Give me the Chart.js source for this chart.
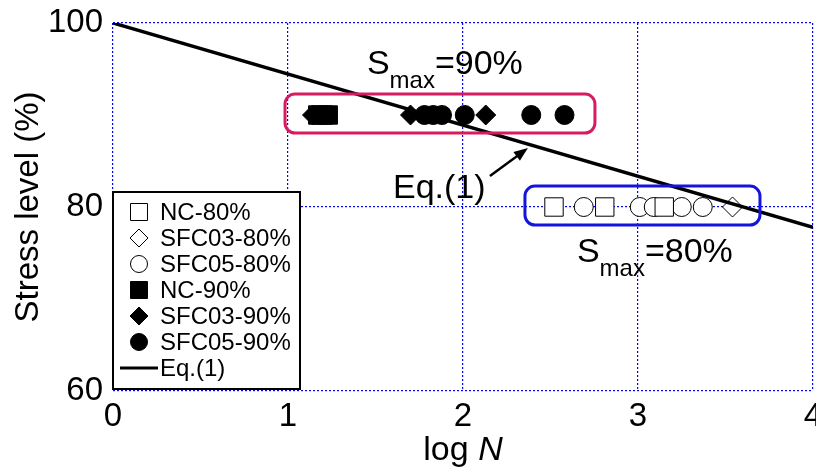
<!DOCTYPE html>
<html>
<head>
<meta charset="utf-8">
<script src="https://cdn.jsdelivr.net/npm/chart.js@4/dist/chart.umd.min.js"></script>
<style>
  html, body { margin: 0; padding: 0; background: #fff; }
  #wrap { width: 816px; height: 470px; }
</style>
</head>
<body>
<div id="wrap"><canvas id="c" width="816" height="470"></canvas></div>
<script>
// Axis ticks
const xTicks = [0, 1, 2, 3, 4];
const yTicks = [60, 80, 100];

// Maximum stress levels (%)
const level80 = 80;
const level90 = 90;

// log N of each specimen
const nc80     = [2.52, 2.81, 3.15];
const sfc03_80 = [3.54];
const sfc05_80 = [2.69, 3.01, 3.09, 3.25, 3.37];
const nc90     = [1.17, 1.20, 1.23];
const sfc03_90 = [1.14, 1.70, 2.13];
const sfc05_90 = [1.78, 1.83, 1.88, 2.01, 2.39, 2.58];

// Eq.(1): fitted S-N line
const eqLogN   = [0, 4];
const eqStress = [100, 77.8];

const FONT = "'Liberation Sans', Arial, Helvetica, sans-serif";
Chart.defaults.font.family = FONT;
Chart.defaults.color = '#000';

const pts = (xs, y) => xs.map(x => ({ x: x, y: y }));

function markerSet(label, xs, y, style, filled) {
  const radius = style === 'rect' ? 13 : (style === 'rectRot' ? 10 : 9.5);
  return {
    label: label,
    data: pts(xs, y),
    pointStyle: style,
    pointRadius: radius,
    pointHoverRadius: radius,
    pointBackgroundColor: filled ? '#000' : '#fff',
    pointBorderColor: '#000',
    pointBorderWidth: 1,
    showLine: false,
    order: 1
  };
}

const datasets = [
  markerSet('NC-80%', nc80, level80, 'rect', false),
  markerSet('SFC03-80%', sfc03_80, level80, 'rectRot', false),
  markerSet('SFC05-80%', sfc05_80, level80, 'circle', false),
  markerSet('NC-90%', nc90, level90, 'rect', true),
  markerSet('SFC03-90%', sfc03_90, level90, 'rectRot', true),
  markerSet('SFC05-90%', sfc05_90, level90, 'circle', true),
  {
    label: 'Eq.(1)',
    type: 'line',
    data: eqLogN.map((x, i) => ({ x: x, y: eqStress[i] })),
    borderColor: '#000',
    borderWidth: 3.5,
    pointRadius: 0,
    showLine: true,
    order: 0
  }
];

// Boxed groups, labels and the arrow to the fitted line (data units)
const notes = {
  box90: { x0: 0.983, x1: 2.754, y0: 92.28, y1: 88.04, color: '#d81b60' },
  box80: { x0: 2.354, x1: 3.697, y0: 82.28, y1: 78.04, color: '#1414dc' },
  s90: { x: 1.451, y: 94.46, value: '=90%' },
  s80: { x: 2.651, y: 74.0, value: '=80%' },
  eq: { x: 1.60, y: 80.98, text: 'Eq.(1)' },
  arrow: { x0: 2.154, y0: 83.37, x1: 2.371, y1: 86.41 }
};

function roundRect(ctx, x, y, w, h, r) {
  ctx.beginPath();
  ctx.moveTo(x + r, y);
  ctx.lineTo(x + w - r, y);
  ctx.arcTo(x + w, y, x + w, y + r, r);
  ctx.lineTo(x + w, y + h - r);
  ctx.arcTo(x + w, y + h, x + w - r, y + h, r);
  ctx.lineTo(x + r, y + h);
  ctx.arcTo(x, y + h, x, y + h - r, r);
  ctx.lineTo(x, y + r);
  ctx.arcTo(x, y, x + r, y, r);
  ctx.closePath();
}

const annotations = {
  id: 'annotations',
  afterDatasetsDraw(chart) {
    const { ctx, scales: { x, y } } = chart;
    ctx.save();
    // group boxes
    [notes.box90, notes.box80].forEach(b => {
      const px0 = x.getPixelForValue(b.x0), px1 = x.getPixelForValue(b.x1);
      const py0 = y.getPixelForValue(b.y0), py1 = y.getPixelForValue(b.y1);
      roundRect(ctx, px0, py0, px1 - px0, py1 - py0, 10);
      ctx.lineWidth = 3;
      ctx.strokeStyle = b.color;
      ctx.stroke();
    });
    // S_max labels
    ctx.fillStyle = '#000';
    ctx.textBaseline = 'alphabetic';
    ctx.textAlign = 'left';
    [notes.s90, notes.s80].forEach(s => {
      let px = x.getPixelForValue(s.x);
      const py = y.getPixelForValue(s.y);
      ctx.font = '34px ' + FONT;
      ctx.fillText('S', px, py);
      px += ctx.measureText('S').width;
      ctx.font = '24px ' + FONT;
      ctx.fillText('max', px, py + 14);
      px += ctx.measureText('max').width;
      ctx.font = '34px ' + FONT;
      ctx.fillText(s.value, px, py);
    });
    // Eq.(1) label with arrow
    ctx.font = '34px ' + FONT;
    ctx.fillText(notes.eq.text, x.getPixelForValue(notes.eq.x), y.getPixelForValue(notes.eq.y));
    const ax0 = x.getPixelForValue(notes.arrow.x0), ay0 = y.getPixelForValue(notes.arrow.y0);
    const ax1 = x.getPixelForValue(notes.arrow.x1), ay1 = y.getPixelForValue(notes.arrow.y1);
    const ang = Math.atan2(ay1 - ay0, ax1 - ax0);
    const head = 14, half = 5.5;
    ctx.beginPath();
    ctx.moveTo(ax0, ay0);
    ctx.lineTo(ax1 - head * 0.8 * Math.cos(ang), ay1 - head * 0.8 * Math.sin(ang));
    ctx.lineWidth = 2.5;
    ctx.strokeStyle = '#000';
    ctx.stroke();
    ctx.beginPath();
    ctx.moveTo(ax1, ay1);
    ctx.lineTo(ax1 - head * Math.cos(ang) + half * Math.sin(ang), ay1 - head * Math.sin(ang) - half * Math.cos(ang));
    ctx.lineTo(ax1 - head * Math.cos(ang) - half * Math.sin(ang), ay1 - head * Math.sin(ang) + half * Math.cos(ang));
    ctx.closePath();
    ctx.fillStyle = '#000';
    ctx.fill();
    ctx.restore();
  }
};

// x-axis title "log N" with an italic N
const xTitle = {
  id: 'xTitle',
  afterDraw(chart) {
    const { ctx, chartArea } = chart;
    ctx.save();
    ctx.fillStyle = '#000';
    ctx.textBaseline = 'alphabetic';
    ctx.textAlign = 'left';
    const a = 'log ', b = 'N';
    ctx.font = '34px ' + FONT;
    const wa = ctx.measureText(a).width;
    ctx.font = 'italic 34px ' + FONT;
    const wb = ctx.measureText(b).width;
    const x0 = (chartArea.left + chartArea.right) / 2 - (wa + wb) / 2;
    const base = chartArea.bottom + 69;
    ctx.font = '34px ' + FONT;
    ctx.fillText(a, x0, base);
    ctx.font = 'italic 34px ' + FONT;
    ctx.fillText(b, x0 + wa, base);
    ctx.restore();
  }
};

// Inset legend in the lower-left corner of the plot
const insetLegend = {
  id: 'insetLegend',
  afterDraw(chart) {
    const { ctx, chartArea } = chart;
    const left = chartArea.left, right = left + 187;
    const bottom = chartArea.bottom - 2, top = bottom - 197;
    ctx.save();
    ctx.fillStyle = '#fff';
    ctx.fillRect(left, top, right - left, bottom - top);
    ctx.lineWidth = 2;
    ctx.strokeStyle = '#000';
    ctx.strokeRect(left, top, right - left, bottom - top);
    ctx.font = '24px ' + FONT;
    ctx.textBaseline = 'middle';
    ctx.textAlign = 'left';
    chart.data.datasets.forEach((ds, i) => {
      const cy = top + 20 + i * 26;
      const mx = left + 26;
      if (ds.type === 'line') {
        ctx.beginPath();
        ctx.moveTo(left + 7, cy);
        ctx.lineTo(left + 45, cy);
        ctx.lineWidth = 3;
        ctx.strokeStyle = '#000';
        ctx.stroke();
      } else {
        ctx.fillStyle = ds.pointBackgroundColor;
        ctx.strokeStyle = '#000';
        ctx.lineWidth = 1;
        Chart.helpers.drawPoint(ctx, { pointStyle: ds.pointStyle, radius: ds.pointRadius - 1, borderWidth: 1, rotation: 0 }, mx, cy);
      }
      ctx.fillStyle = '#000';
      ctx.fillText(ds.label, left + 47, cy + 1);
    });
    ctx.restore();
  }
};

const gridCfg = {
  color: '#0000ff',
  lineWidth: 1.2,
  drawTicks: false
};

new Chart(document.getElementById('c'), {
  type: 'scatter',
  data: { datasets: datasets },
  options: {
    responsive: false,
    devicePixelRatio: 1,
    animation: false,
    events: [],
    layout: { autoPadding: false, padding: { left: 0, right: 3, top: 23, bottom: 0 } },
    plugins: { legend: { display: false }, tooltip: { enabled: false } },
    scales: {
      x: {
        type: 'linear',
        min: xTicks[0],
        max: xTicks[xTicks.length - 1],
        afterBuildTicks(scale) { scale.ticks = xTicks.map(v => ({ value: v })); },
        afterFit(scale) { scale.height = 79; scale.paddingLeft = 0; scale.paddingRight = 0; },
        grid: gridCfg,
        border: { display: false, dash: [2, 2] },
        ticks: { font: { size: 33 }, padding: 6, color: '#000', maxRotation: 0 },
        title: { display: false }
      },
      y: {
        type: 'linear',
        min: yTicks[0],
        max: yTicks[yTicks.length - 1],
        afterBuildTicks(scale) { scale.ticks = yTicks.map(v => ({ value: v })); },
        afterFit(scale) { scale.width = 113; scale.paddingTop = 0; scale.paddingBottom = 0; },
        grid: gridCfg,
        border: { display: false, dash: [2, 2] },
        ticks: { font: { size: 33 }, padding: 10, color: '#000' },
        title: { display: true, text: 'Stress level (%)', font: { size: 33 }, padding: { top: 9, bottom: 0 }, color: '#000' }
      }
    }
  },
  plugins: [annotations, xTitle, insetLegend]
});
</script>
</body>
</html>
